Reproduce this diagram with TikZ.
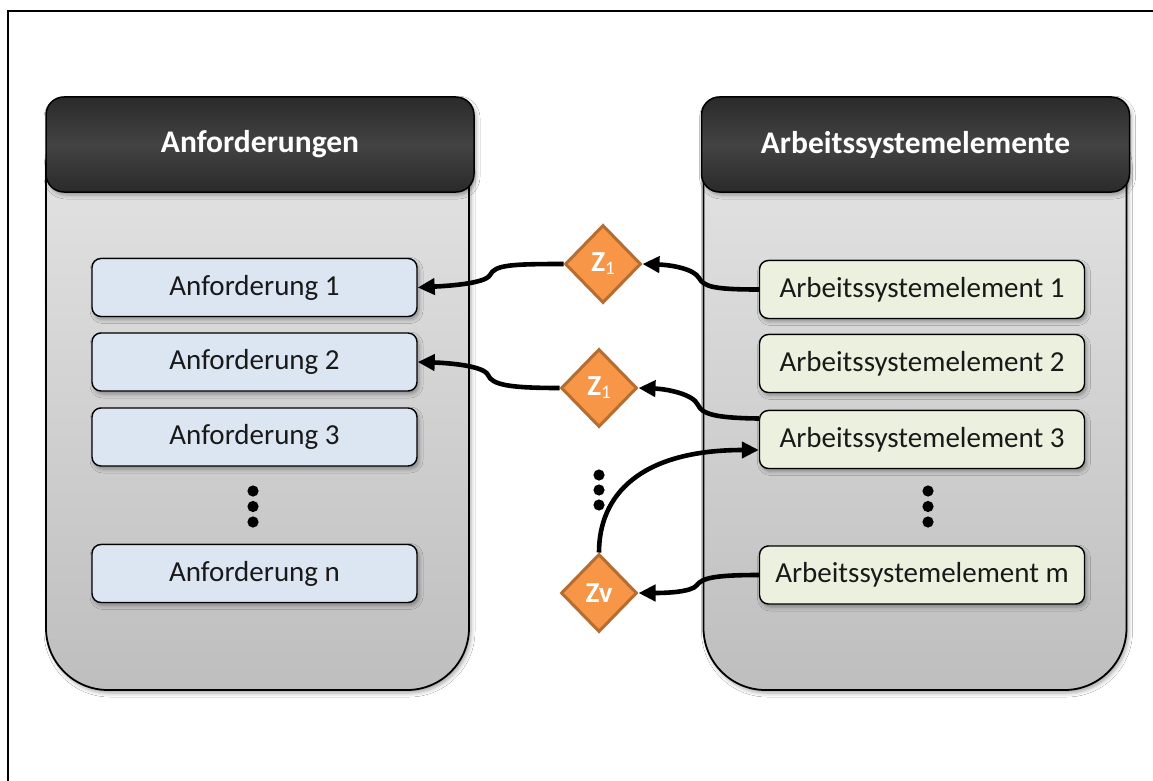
\documentclass[tikz,border=0pt]{standalone}
\usepackage{fontspec}
\setmainfont{Carlito}
\usetikzlibrary{shapes.geometric,arrows.meta,shadows.blur}

\definecolor{hdtop}{HTML}{2A2A2A}
\definecolor{hdmid}{HTML}{434343}
\definecolor{bodytop}{HTML}{E6E6E6}
\definecolor{bodybot}{HTML}{BEBEBE}
\definecolor{reqfill}{HTML}{DCE6F2}
\definecolor{elemfill}{HTML}{EBF1DE}
\definecolor{zfill}{HTML}{F79646}
\definecolor{zline}{HTML}{B66D31}

\tikzset{
  softshadow/.style={blur shadow={shadow xshift=2pt, shadow yshift=-3pt, shadow blur radius=4pt, shadow opacity=35}},
  colbody/.style={draw=black, line width=1.8pt, rounded corners=62pt,
    top color=bodytop, bottom color=bodybot, minimum width=423pt, minimum height=585pt, softshadow},
  colhead/.style={draw=black, line width=1.5pt, rounded corners=18pt,
    top color=hdtop, bottom color=hdtop, middle color=hdmid, minimum width=428pt, minimum height=95pt,
    text=white, font=\fontsize{31.5}{36}\selectfont\bfseries, softshadow},
  itembox/.style={draw=black, line width=1.4pt, rounded corners=9pt, minimum width=325pt,
    minimum height=58pt, inner sep=0pt, font=\fontsize{29}{34}\selectfont, text=black!90, softshadow},
  reqbox/.style={itembox, fill=reqfill},
  elembox/.style={itembox, fill=elemfill},
  zdiam/.style={diamond, draw=zline, line width=3pt, fill=zfill, minimum width=76pt,
    minimum height=78pt, inner sep=0pt, text=white, font=\fontsize{29}{34}\selectfont\bfseries},
  conn/.style={line width=4.6pt, -{Triangle[length=17pt,width=16pt]}},
  dotmark/.style={fill=black}
}

\newcommand{\zsub}[1]{Z\raisebox{-3pt}{\mdseries\fontsize{19}{20}\selectfont #1}}

\begin{document}
\begin{tikzpicture}[x=1pt,y=-1pt]
  \useasboundingbox (0,0) rectangle (1153,781);
  \fill[white] (0,0) rectangle (1153,781);

  % outer frame (only its top and left edges lie on the page)
  \draw[line width=2.2pt] (8.3,790) -- (8.3,11) -- (1160,11);

  % column bodies and their headers
  \node[colbody] (bodyA) at (257.5,397.5) {};
  \node[colbody] (bodyB) at (915,397.5) {};
  \node[colhead] (hA) at (260,144.5) {Anforderungen};
  \node[colhead] (hB) at (915.5,144.5) {Arbeitssystemelemente};

  % requirements
  \node[reqbox] (a1) at (254.5,287.5) {Anforderung 1};
  \node[reqbox] (a2) at (254.5,362) {Anforderung 2};
  \node[reqbox] (a3) at (254.5,437) {Anforderung 3};
  \node[reqbox] (an) at (254.5,573.5) {Anforderung n};

  % work system elements
  \node[elembox] (e1) at (922,289.5) {Arbeitssystemelement 1};
  \node[elembox] (e2) at (922,363.5) {Arbeitssystemelement 2};
  \node[elembox] (e3) at (922,439.5) {Arbeitssystemelement 3};
  \node[elembox] (em) at (922,575) {Arbeitssystemelement m};

  % ellipsis dots
  \foreach \yy in {491,506.5,522} {
    \fill[dotmark] (253,\yy) circle (5.6pt);
    \fill[dotmark] (928,\yy) circle (5.6pt);
  }
  \foreach \yy in {475,490,505} {
    \fill[dotmark] (599,\yy) circle (5.6pt);
  }

  % assignment diamonds
  \node[zdiam] (z1) at (603,264) {\zsub{1}};
  \node[zdiam] (z2) at (599,388) {\zsub{1}};
  \node[zdiam] (zv) at (599,593) {Zv};

  % connectors
  \draw[conn] (e1.west) .. controls (715,289.5) and (704,287) .. (699,278)
              .. controls (694,269) and (672,265) .. (z1.east);
  \draw[conn] (z1.west) .. controls (510,264) and (495,265) .. (490,275)
              .. controls (485,284) and (445,286) .. (a1.east);
  \draw[conn] ([yshift=21pt]e3.west) .. controls (715,418) and (702,414) .. (698,405)
              .. controls (693,394) and (667,389) .. (z2.east);
  \draw[conn] (z2.west) .. controls (510,388) and (492,385) .. (488,375)
              .. controls (484,366) and (450,363) .. (a2.east);
  \draw[conn] (em.west) .. controls (715,575) and (702,578) .. (697,585)
              .. controls (692,592) and (667,593) .. (zv.east);
  \draw[conn] (zv.north) .. controls (599,495) and (640,450) .. ([yshift=-10.5pt]e3.west);
\end{tikzpicture}
\end{document}
